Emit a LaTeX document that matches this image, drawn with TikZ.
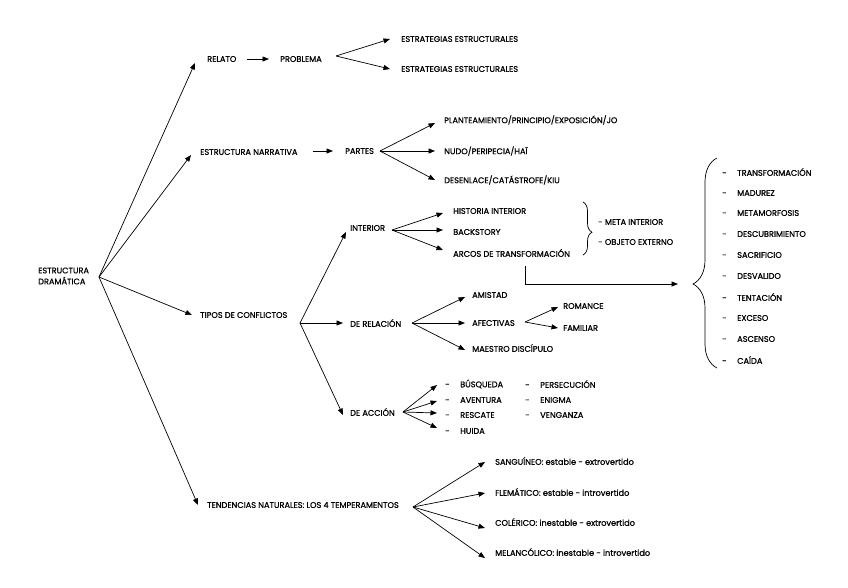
\documentclass[tikz,border=0pt]{standalone}
\usepackage{fontspec}
\setmainfont{Poppins}[FakeBold=0.8]
\usetikzlibrary{arrows.meta,decorations.pathreplacing}
\begin{document}
\begin{tikzpicture}[x=1pt,y=-1pt,
  lbl/.style={anchor=west,inner sep=0pt,font=\fontsize{8.2}{11}\selectfont},
  arr/.style={-{Triangle[length=6.5pt,width=5pt]},line width=0.7pt},
  ln/.style={line width=0.7pt},
  br/.style={line width=0.7pt,decorate}]
\useasboundingbox[fill=white] (0,0) rectangle (848,587);
% root
\node[lbl,align=left] (root) at (38,276) {ESTRUCTURA\\DRAMÁTICA};
\coordinate (r) at (99,277);
% relato
\node[lbl] (relato) at (207,59) {RELATO};
\node[lbl] (problema) at (280,59) {PROBLEMA};
\coordinate (fp) at (336,56);
\node[lbl] (est1) at (401,39) {ESTRATEGIAS ESTRUCTURALES};
\node[lbl] (est2) at (401,69) {ESTRATEGIAS ESTRUCTURALES};
\draw[arr] (r) -- ([xshift=-12pt,yshift=-4pt]relato.west);
\draw[arr] ([xshift=10pt]relato.east) -- ([xshift=-11pt]problema.west);
\draw[arr] (fp) -- ([xshift=-11pt]est1.west);
\draw[arr] (fp) -- ([xshift=-11pt]est2.west);
% narrativa
\node[lbl] (narr) at (200,152) {ESTRUCTURA NARRATIVA};
\node[lbl] (partes) at (345,151) {PARTES};
\coordinate (fpa) at (380,151);
\node[lbl] (plan) at (444,120) {PLANTEAMIENTO/PRINCIPIO/EXPOSICIÓN/JO};
\node[lbl] (nudo) at (444,151) {NUDO/PERIPECIA/HAÏ};
\node[lbl] (desen) at (444,180) {DESENLACE/CATÁSTROFE/KIU};
\draw[arr] (r) -- ([xshift=-9pt,yshift=-3pt]narr.west);
\draw[arr] (313,151) -- ([xshift=-12pt]partes.west);
\draw[arr] (fpa) -- ([xshift=-9pt,yshift=-3pt]plan.west);
\draw[arr] (fpa) -- ([xshift=-9pt]nudo.west);
\draw[arr] (fpa) -- ([xshift=-9pt]desen.west);
% tipos
\node[lbl] (tipos) at (200,315) {TIPOS DE CONFLICTOS};
\coordinate (ft) at (300,323);
\node[lbl] (interior) at (350,228) {INTERIOR};
\node[lbl] (rel) at (350,323) {DE RELACIÓN};
\node[lbl] (acc) at (350,412) {DE ACCIÓN};
\draw[arr] (r) -- ([xshift=-8pt]tipos.west);
\draw[arr] (ft) -- ([xshift=-4pt,yshift=-4pt]interior.west);
\draw[arr] (ft) -- ([xshift=-7pt]rel.west);
\draw[arr] (ft) -- ([xshift=-7pt,yshift=-3pt]acc.west);
% interior
\coordinate (fi) at (392,230);
\node[lbl] (hist) at (453,211) {HISTORIA INTERIOR};
\node[lbl] (back) at (453,232) {BACKSTORY};
\node[lbl] (arcos) at (453,253) {ARCOS DE TRANSFORMACIÓN};
\draw[arr] (fi) -- ([xshift=-10pt,yshift=-2pt]hist.west);
\draw[arr] (fi) -- ([xshift=-10pt,yshift=2pt]back.west);
\draw[arr] (fi) -- ([xshift=-10pt,yshift=3pt]arcos.west);
\draw[br,decoration={brace,amplitude=9pt,aspect=0.57}] (583,202) -- (583,255);
\node[lbl] (meta) at (598,222) {- META INTERIOR};
\node[lbl] (obj) at (598,242) {- OBJETO EXTERNO};
\coordinate (a1) at (525,266);
\coordinate (a2) at (678,284);
\draw[arr] (a1) |- (a2);
\draw[br,decoration={brace,amplitude=24pt,aspect=0.4}] (717,368) -- (717,158);
\foreach \n/\yy/\t in {b1/172/TRANSFORMACIÓN,b2/193/MADUREZ,b3/213/METAMORFOSIS,b4/234/DESCUBRIMIENTO,b5/255/SACRIFICIO,b6/276/DESVALIDO,b7/297/TENTACIÓN,b8/318/EXCESO,b9/339/ASCENSO,b10/360/CAÍDA}
  \node[lbl] (\n) at (722,\yy) {\makebox[15pt][l]{-}\t};
% relacion
\coordinate (fr) at (412,323);
\node[lbl] (amistad) at (472,295) {AMISTAD};
\node[lbl] (afect) at (472,323) {AFECTIVAS};
\node[lbl] (maestro) at (472,348) {MAESTRO DISCÍPULO};
\draw[arr] (fr) -- ([xshift=-7pt,yshift=-2pt]amistad.west);
\draw[arr] (fr) -- ([xshift=-7pt]afect.west);
\draw[arr] (fr) -- ([xshift=-7pt,yshift=-2pt]maestro.west);
\coordinate (fa) at (525,322);
\node[lbl] (rom) at (563,306) {ROMANCE};
\node[lbl] (fam) at (563,328) {FAMILIAR};
\draw[arr] (fa) -- ([xshift=-5pt,yshift=-1pt]rom.west);
\draw[arr] (fa) -- ([xshift=-5pt]fam.west);
% accion
\coordinate (fc) at (403,412);
\node[lbl] (busq) at (445,384) {\makebox[15pt][l]{-}BÚSQUEDA};
\node[lbl] (aven) at (445,400) {\makebox[15pt][l]{-}AVENTURA};
\node[lbl] (resc) at (445,415) {\makebox[15pt][l]{-}RESCATE};
\node[lbl] (huida) at (445,431) {\makebox[15pt][l]{-}HUIDA};
\node[lbl] (pers) at (525,384) {\makebox[15pt][l]{-}PERSECUCIÓN};
\node[lbl] (enig) at (525,400) {\makebox[15pt][l]{-}ENIGMA};
\node[lbl] (veng) at (525,415) {\makebox[15pt][l]{-}VENGANZA};
\draw[arr] (fc) -- ([xshift=-8pt,yshift=-1pt]busq.west);
\draw[arr] (fc) -- ([xshift=-8pt,yshift=-1pt]aven.west);
\draw[arr] (fc) -- ([xshift=-8pt,yshift=2pt]resc.west);
\draw[arr] (fc) -- ([xshift=-8pt,yshift=3pt]huida.west);
% tendencias
\node[lbl] (tend) at (207,505) {TENDENCIAS NATURALES: LOS 4 TEMPERAMENTOS};
\coordinate (fte) at (413,507);
\node[lbl] (sang) at (495,461) {SANGUÍNEO: estable - extrovertido};
\node[lbl] (flem) at (495,492) {FLEMÁTICO: estable - introvertido};
\node[lbl] (col) at (495,522) {COLÉRICO: inestable - extrovertido};
\node[lbl] (mel) at (495,552) {MELANCÓLICO: inestable - introvertido};
\draw[arr] (r) -- ([xshift=-9pt]tend.west);
\draw[arr] (fte) -- ([xshift=-10pt,yshift=-1pt]sang.west);
\draw[arr] (fte) -- ([xshift=-10pt,yshift=-1pt]flem.west);
\draw[arr] (fte) -- ([xshift=-10pt,yshift=-6pt]col.west);
\draw[arr] (fte) -- ([xshift=-10pt,yshift=-6pt]mel.west);
\end{tikzpicture}
\end{document}
